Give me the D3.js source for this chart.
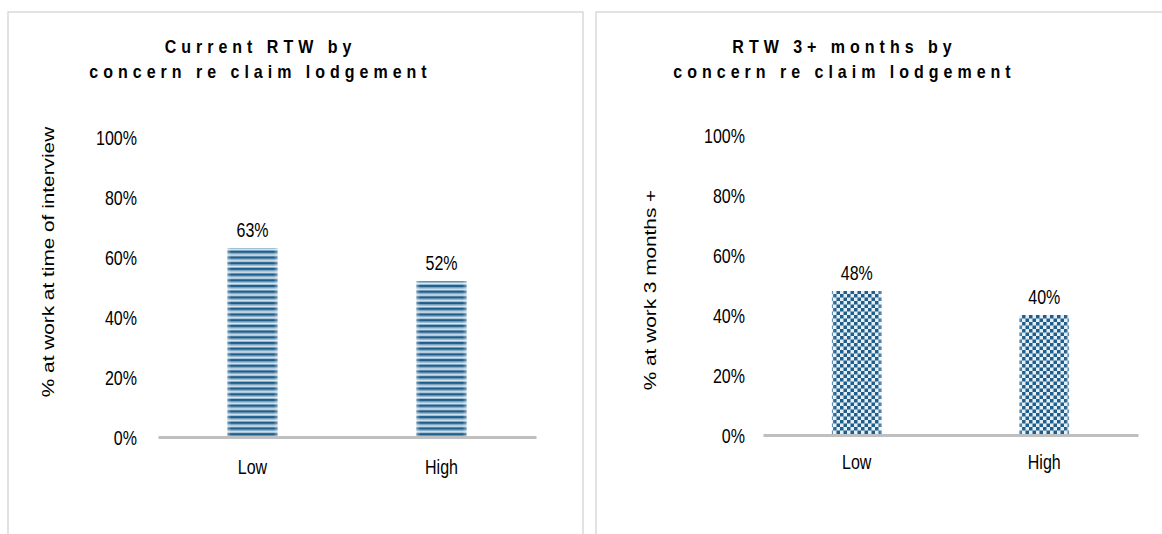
<!DOCTYPE html>
<html><head><meta charset="utf-8">
<script src="https://cdn.jsdelivr.net/npm/d3@7"></script>
<style>
html,body{margin:0;padding:0;background:#fff;}
svg{display:block;font-family:"Liberation Sans",Arial,sans-serif;}
</style></head>
<body>
<svg id="c" width="1162" height="534"></svg>
<script>
const categories = ["Low", "High"];
const currentRTW = [63, 52];
const rtw3Months = [48, 40];
const yTicks = [0, 20, 40, 60, 80, 100];
const titles = [["Current RTW by", "concern re claim lodgement"], ["RTW 3+ months by", "concern re claim lodgement"]];
const yTitles = ["% at work at time of interview", "% at work 3 months +"];

const K = 1.25; // vertical stretch of text in the reference
const svg = d3.select("#c");
const defs = svg.append("defs");

// horizontal stripes pattern
const ps = defs.append("pattern").attr("id","stripes").attr("patternUnits","userSpaceOnUse")
  .attr("width",8).attr("height",5.7);
ps.append("rect").attr("width",8).attr("height",5.7).attr("fill","#dbe8f1");
ps.append("rect").attr("y",0).attr("width",8).attr("height",2.4).attr("fill","#1f5d8a");
ps.append("rect").attr("y",2.4).attr("width",8).attr("height",1).attr("fill","#6f9dbd");
ps.append("rect").attr("y",5.0).attr("width",8).attr("height",0.7).attr("fill","#7fa7c4");

// checker pattern
const pc = defs.append("pattern").attr("id","checker").attr("patternUnits","userSpaceOnUse")
  .attr("width",7).attr("height",7);
pc.append("rect").attr("width",7).attr("height",7).attr("fill","#e4eef5");
pc.append("rect").attr("x",0).attr("y",0).attr("width",3.5).attr("height",3.5).attr("fill","#1f5d8a");
pc.append("rect").attr("x",3.5).attr("y",3.5).attr("width",3.5).attr("height",3.5).attr("fill","#1f5d8a");

// edge gradient overlay
const g = defs.append("linearGradient").attr("id","edge").attr("x1","0").attr("x2","1");
g.append("stop").attr("offset","0").attr("stop-color","#fff").attr("stop-opacity",0.35);
g.append("stop").attr("offset","0.08").attr("stop-color","#fff").attr("stop-opacity",0);
g.append("stop").attr("offset","0.92").attr("stop-color","#fff").attr("stop-opacity",0);
g.append("stop").attr("offset","1").attr("stop-color","#fff").attr("stop-opacity",0.35);

const panels = [
  {x0:8, x1:583, values:currentRTW, fill:"url(#stripes)", title:titles[0], ytitle:yTitles[0],
   plotL:158, plotR:536, y0:437, y100:137, tickX:137, titleX:258, ytX:54, ytY:262, catY:474},
  {x0:596, x1:1170, values:rtw3Months, fill:"url(#checker)", title:titles[1], ytitle:yTitles[1],
   plotL:763, plotR:1138, y0:435, y100:135, tickX:745, titleX:842, ytX:656, ytY:290, catY:469}
];

function stext(G, x, y, str, size, rot, k) {
  return G.append("text")
    .attr("transform", `translate(${x},${y}) scale(1,${k || K})` + (rot ? " rotate(-90)" : ""))
    .attr("font-size", size).attr("fill", "#000").text(str);
}

panels.forEach(p => {
  const G = svg.append("g");
  G.append("rect").attr("x",p.x0).attr("y",12).attr("width",p.x1-p.x0).attr("height",560)
    .attr("fill","#fff").attr("stroke","#d9d9d9").attr("stroke-width",1.5);

  // title
  p.title.forEach((line, i) => {
    stext(G, p.titleX + 2.5, 53 + i * 25, line, 16, false, 1.2)
      .attr("text-anchor","middle").attr("font-weight","bold").attr("letter-spacing","5px");
  });

  const x = d3.scaleBand().domain(categories).range([p.plotL,p.plotR]).paddingInner(0.735).paddingOuter(0.3675);
  const y = d3.scaleLinear().domain([0,100]).range([p.y0,p.y100]);

  // y tick labels
  const ya = d3.axisLeft(y).tickValues(yTicks).tickFormat(d=>d+"%").tickSize(0).tickPadding(0);
  const yg = G.append("g").attr("transform",`translate(${p.tickX},0)`).call(ya);
  yg.select(".domain").remove();
  yg.selectAll("text").attr("font-size",16).attr("fill","#000")
    .attr("font-family","'Liberation Sans',Arial,sans-serif")
    .attr("dy","0.35em").attr("transform",`scale(1,${K})`);

  // bars
  G.selectAll(".bar").data(p.values).enter().append("rect")
    .attr("x",(d,i)=>x(categories[i])).attr("width",x.bandwidth())
    .attr("y",d=>y(d)).attr("height",d=>y(0)-y(d)).attr("fill",p.fill);
  G.selectAll(".barE").data(p.values).enter().append("rect")
    .attr("x",(d,i)=>x(categories[i])).attr("width",x.bandwidth())
    .attr("y",d=>y(d)).attr("height",d=>y(0)-y(d)).attr("fill","url(#edge)");

  // value labels
  p.values.forEach((d, i) => {
    stext(G, x(categories[i]) + x.bandwidth()/2, y(d) - 11, d + "%", 16).attr("text-anchor","middle");
  });

  // x axis baseline
  const xa = d3.axisBottom(x).tickSize(0).tickPadding(0);
  const xg = G.append("g").attr("transform",`translate(0,${y(0)})`).call(xa);
  xg.select(".domain").attr("stroke","#bfbfbf").attr("stroke-width",3);
  xg.selectAll("text").attr("font-size",16).attr("fill","#000")
    .attr("font-family","'Liberation Sans',Arial,sans-serif").attr("dy",0).attr("y",0)
    .attr("transform",`translate(0,${p.catY - y(0)}) scale(1,${K})`);

  // y title
  stext(G, p.ytX, p.ytY, p.ytitle, 16, true, 1.3).attr("text-anchor","middle");
});
</script>
</body></html>
